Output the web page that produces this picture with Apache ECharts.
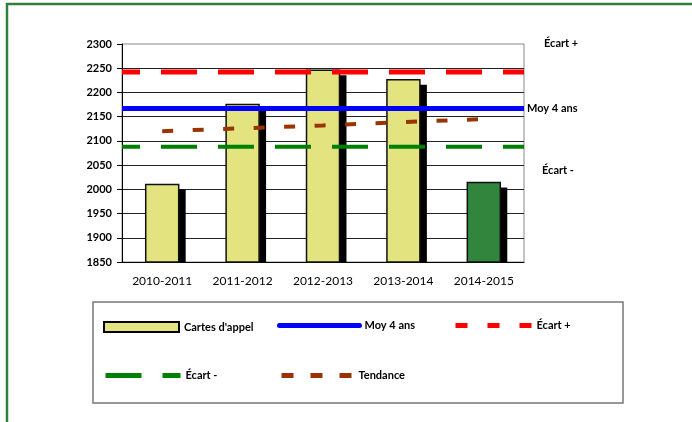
<!DOCTYPE html>
<html>
<head>
<meta charset="utf-8">
<script src="https://cdn.jsdelivr.net/npm/echarts@6/dist/echarts.min.js"></script>
<style>
  html, body { margin: 0; padding: 0; background: #fff; }
  #chart { width: 692px; height: 422px; }
</style>
</head>
<body>
<div id="chart"></div>
<script>
// data
const saisons = ['2010-2011', '2011-2012', '2012-2013', '2013-2014', '2014-2015']
const cartesAppel = [2010, 2175, 2246, 2226, 2014]
const barColors = ['#E3E37F', '#E3E37F', '#E3E37F', '#E3E37F', '#31853D']
const tendance = [2120, 2126, 2132, 2139, 2145]
const moy4ans = [2167, 2167]
const ecartPlus = [2242, 2242]
const ecartMoins = [2088, 2088]
const yTicks = { min: 1850, max: 2300, step: 50 }

const FONT = 'Lato, "Liberation Sans", sans-serif'
const chart = echarts.init(document.getElementById('chart'))

// horizontal reference lines live on a hidden 0..1 x axis so they span the plot
const flat = (vals) => vals.map((v, i) => [i, v])

function lineLegend(name, left, top, width, type) {
  return {
    data: [name],
    left: left,
    top: top,
    padding: 0,
    itemWidth: width,
    itemHeight: 10,
    selectedMode: false,
    itemStyle: { opacity: 0 },
    lineStyle: { width: 5, type: type || 'solid', dashOffset: 0, cap: type ? 'butt' : 'round' },
    textStyle: { fontFamily: FONT, fontSize: 11, fontWeight: 'bold', color: '#000' }
  }
}

chart.setOption({
  animation: false,
  backgroundColor: '#fff',
  grid: {
    left: 122, right: 168, top: 44, bottom: 160,
    show: true, borderColor: '#888', borderWidth: 1
  },
  xAxis: [
    {
      type: 'category',
      data: saisons,
      axisLine: { lineStyle: { color: '#000', width: 1 } },
      axisTick: { length: 5, lineStyle: { color: '#000' } },
      axisLabel: { color: '#000', fontFamily: FONT, fontSize: 12, margin: 13 }
    },
    { type: 'value', min: 0, max: 1, show: false }
  ],
  yAxis: {
    type: 'value',
    min: yTicks.min,
    max: yTicks.max,
    interval: yTicks.step,
    axisLine: { show: true, lineStyle: { color: '#000', width: 1 } },
    axisTick: { show: true, length: 5, lineStyle: { color: '#000' } },
    axisLabel: {
      color: '#000', fontFamily: FONT, fontSize: 11, fontWeight: 'bold', margin: 10,
      formatter: (v) => String(v)
    },
    splitLine: { show: true, showMaxLine: false, lineStyle: { color: '#222', width: 1 } }
  },
  legend: [
    {
      data: ["Cartes d'appel"], left: 103, top: 321, padding: 0,
      itemWidth: 75, itemHeight: 10, icon: 'rect', selectedMode: false,
      itemStyle: { color: '#E3E37F', borderColor: '#000', borderWidth: 2 },
      textStyle: { fontFamily: FONT, fontSize: 11, fontWeight: 'bold', color: '#000' }
    },
    lineLegend('Moy 4 ans', 277, 320, 80),
    lineLegend('Écart +', 453, 320, 76, [12, 20]),
    lineLegend('Écart -', 103, 370, 75, [36, 21]),
    lineLegend('Tendance', 279, 370, 72, [12, 17])
  ],
  graphic: [
    {
      type: 'rect', z: -1,
      shape: { x: 7, y: 4, width: 720, height: 440 },
      style: { fill: 'none', stroke: '#31803A', lineWidth: 2.5 }
    },
    {
      type: 'rect',
      shape: { x: 93, y: 302, width: 530, height: 101 },
      style: { fill: 'none', stroke: '#777', lineWidth: 1.5 }
    },
    { type: 'text', left: 544, top: 38, style: { text: 'Écart +', font: 'bold 11px ' + FONT, fill: '#000' } },
    { type: 'text', left: 527, top: 103, style: { text: 'Moy 4 ans', font: 'bold 11px ' + FONT, fill: '#000' } },
    { type: 'text', left: 542, top: 165, style: { text: 'Écart -', font: 'bold 11px ' + FONT, fill: '#000' } }
  ],
  series: [
    {
      name: "Cartes d'appel",
      type: 'custom',
      itemStyle: { color: '#E3E37F', borderColor: '#000', borderWidth: 1.5 },
      encode: { x: 0, y: 1 },
      data: cartesAppel.map((v, i) => ({ value: [i, v], itemStyle: { color: barColors[i] } })),
      renderItem(params, api) {
        const top = api.coord([api.value(0), api.value(1)])
        const base = api.coord([api.value(0), yTicks.min])
        const w = api.size([1, 0])[0] * 0.41
        const x = top[0] - w / 2
        return {
          type: 'group',
          children: [
            {
              type: 'rect',
              shape: { x: x + w, y: top[1] + 5, width: 7, height: base[1] - top[1] - 5 },
              style: { fill: '#000' }
            },
            {
              type: 'rect',
              shape: { x: x, y: top[1], width: w, height: base[1] - top[1] },
              style: { fill: api.visual('color'), stroke: '#111', lineWidth: 1.5 }
            }
          ]
        }
      }
    },
    {
      name: 'Tendance',
      type: 'line',
      data: tendance,
      symbol: 'none',
      z: 3,
      lineStyle: { color: '#993300', width: 4, type: [11, 19.5] },
      itemStyle: { color: '#993300' }
    },
    {
      name: 'Écart -',
      type: 'line',
      xAxisIndex: 1,
      data: flat(ecartMoins),
      symbol: 'none',
      z: 4,
      lineStyle: { color: '#008000', width: 4, type: [36, 21], dashOffset: 18 },
      itemStyle: { color: '#008000' }
    },
    {
      name: 'Écart +',
      type: 'line',
      xAxisIndex: 1,
      data: flat(ecartPlus),
      symbol: 'none',
      z: 4,
      lineStyle: { color: '#FF0000', width: 5, type: [36, 21], dashOffset: 18 },
      itemStyle: { color: '#FF0000' }
    },
    {
      name: 'Moy 4 ans',
      type: 'line',
      xAxisIndex: 1,
      data: flat(moy4ans),
      symbol: 'none',
      z: 5,
      lineStyle: { color: '#0000FF', width: 5 },
      itemStyle: { color: '#0000FF' }
    }
  ]
})
</script>
</body>
</html>
